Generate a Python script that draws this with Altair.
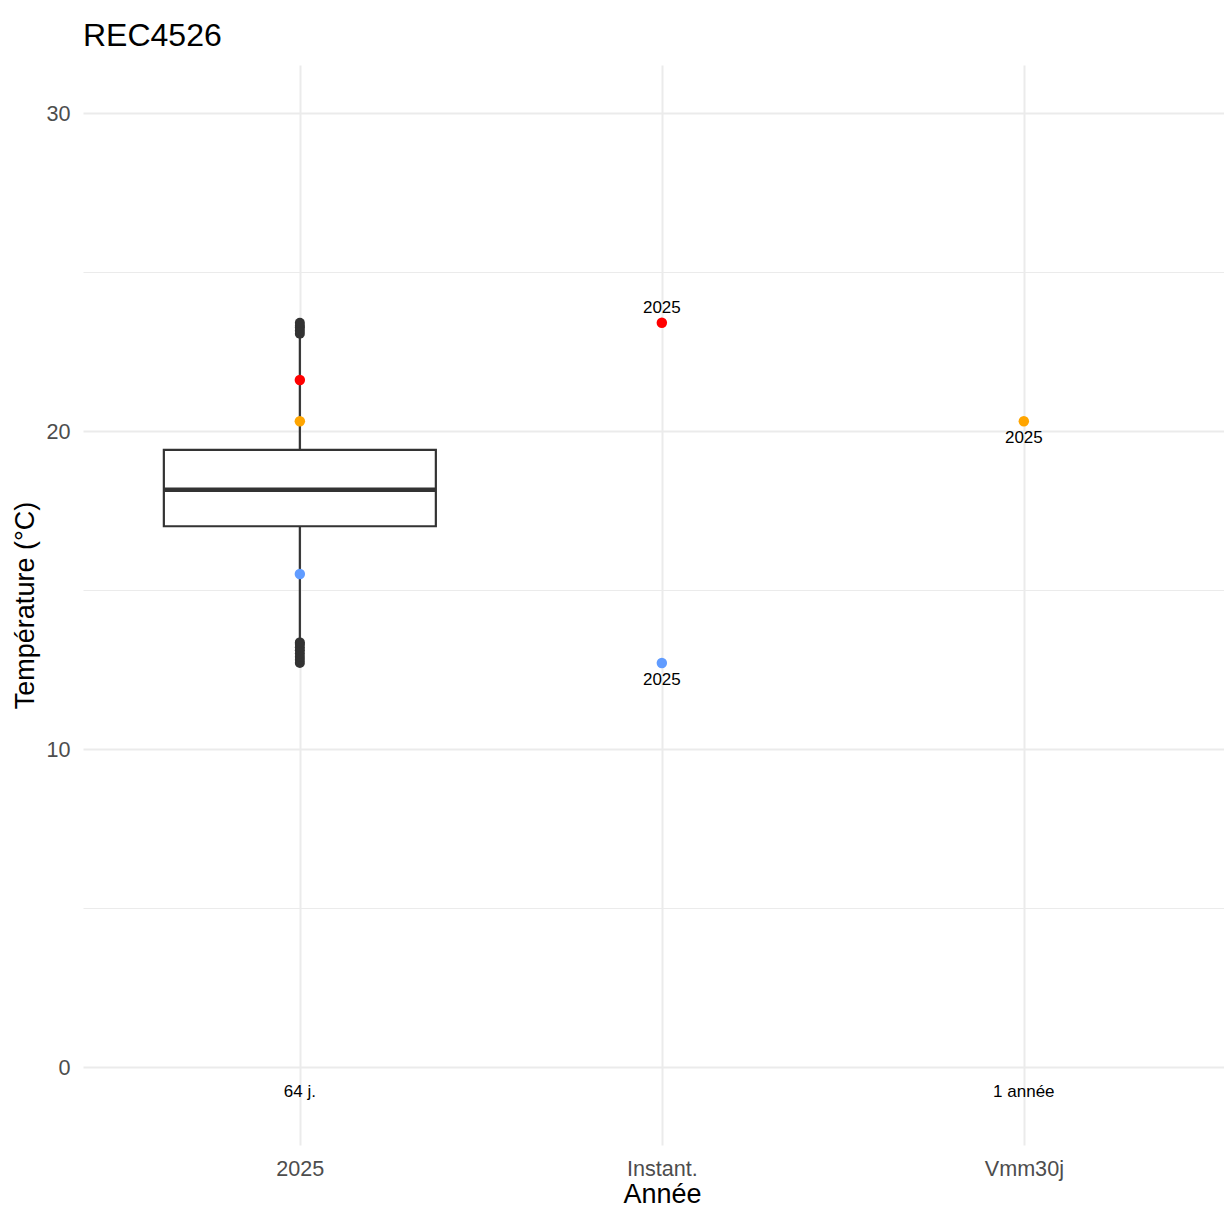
import altair as alt
import pandas as pd

# ---- data ----
cats = ["2025", "Instant.", "Vmm30j"]
kinds = ["max", "moy", "min"]
kind_colors = ["#FF0000", "#FFA500", "#619CFF"]

# boxplot summary (category "2025")
box_cat = ["2025"]
box_q1 = [17.0]
box_median = [18.15]
box_q3 = [19.4]
whisk_low = [13.45]
whisk_high = [22.95]
outliers = [12.7, 12.8, 12.9, 13.0, 13.1, 13.2, 13.3, 13.35,
            23.05, 23.15, 23.25, 23.3, 23.4]

# coloured points
pt_cat = ["2025", "2025", "2025", "Instant.", "Instant.", "Vmm30j"]
pt_val = [21.6, 20.3, 15.5, 23.4, 12.7, 20.3]
pt_kind = ["max", "moy", "min", "max", "min", "moy"]

# year labels near points
lab_above_cat = ["Instant."]
lab_above_val = [23.4]
lab_above_txt = ["2025"]
lab_below_cat = ["Instant.", "Vmm30j"]
lab_below_val = [12.7, 20.3]
lab_below_txt = ["2025", "2025"]

# count labels
n_cat = ["2025", "Vmm30j"]
n_val = [-0.79, -0.79]
n_txt = ["64 j.", "1 année"]

y_ticks = [0, 5, 10, 15, 20, 25, 30]

FONT = "Liberation Sans"

# ---- frames ----
box_df = pd.DataFrame({"cat": box_cat, "q1": box_q1, "med": box_median,
                       "q3": box_q3, "lo": whisk_low, "hi": whisk_high})
out_df = pd.DataFrame({"cat": ["2025"] * len(outliers), "v": outliers})
pt_df = pd.DataFrame({"cat": pt_cat, "v": pt_val, "kind": pt_kind})
above_df = pd.DataFrame({"cat": lab_above_cat, "v": lab_above_val, "t": lab_above_txt})
below_df = pd.DataFrame({"cat": lab_below_cat, "v": lab_below_val, "t": lab_below_txt})
n_df = pd.DataFrame({"cat": n_cat, "v": n_val, "t": n_txt})

xscale = alt.Scale(type="point", domain=cats, padding=0.576, align=0.52)
yscale = alt.Scale(domain=[-2.45, 31.5], nice=False, zero=False)

xaxis = alt.Axis(
    title="Année", grid=True, gridColor="#EBEBEB", gridWidth=2,
    ticks=False, domain=False, labelAngle=0,
    labelFont=FONT, labelFontSize=21.6, labelColor="#4D4D4D", labelPadding=13,
    titleFont=FONT, titleFontSize=27, titleFontWeight="normal", titleColor="#000000",
    titleX=579, titleY=57, titleBaseline="alphabetic",
)
yaxis = alt.Axis(
    title="Température (°C)", values=y_ticks,
    labelExpr="datum.value % 10 === 0 ? datum.label : ''",
    grid=True, gridColor="#EBEBEB",
    gridWidth={"condition": {"test": "datum.value % 10 === 0", "value": 2}, "value": 1},
    ticks=False, domain=False,
    labelFont=FONT, labelFontSize=21.6, labelColor="#4D4D4D", labelPadding=13,
    labelOffset=1.5,
    titleFont=FONT, titleFontSize=27, titleFontWeight="normal", titleColor="#000000",
    titleX=-58, titleY=540, titleAngle=270, titleBaseline="middle",
)

X = alt.X("cat:N", scale=xscale, axis=xaxis)
Xn = alt.X("cat:N", scale=xscale)

base_box = alt.Chart(box_df)
whisk_lo = base_box.mark_rule(color="#333333", strokeWidth=2.2).encode(
    x=X, y=alt.Y("lo:Q", scale=yscale, axis=yaxis), y2="q1:Q")
whisk_hi = base_box.mark_rule(color="#333333", strokeWidth=2.2).encode(
    x=Xn, y=alt.Y("q3:Q", scale=yscale), y2="hi:Q")
box = base_box.mark_bar(size=272, fill="#FFFFFF", stroke="#333333", strokeWidth=2.2).encode(
    x=Xn, y=alt.Y("q1:Q", scale=yscale), y2="q3:Q")
med = base_box.mark_tick(size=272, thickness=4.5, color="#333333", opacity=1).encode(
    x=Xn, y=alt.Y("med:Q", scale=yscale))

outl = alt.Chart(out_df).mark_circle(size=100, color="#333333", opacity=1).encode(
    x=Xn, y=alt.Y("v:Q", scale=yscale))

pts = alt.Chart(pt_df).mark_circle(size=110, opacity=1).encode(
    x=Xn, y=alt.Y("v:Q", scale=yscale),
    color=alt.Color("kind:N", scale=alt.Scale(domain=kinds, range=kind_colors), legend=None))

txt_above = alt.Chart(above_df).mark_text(dy=-15, fontSize=17, font=FONT, color="#000000").encode(
    x=Xn, y=alt.Y("v:Q", scale=yscale), text="t:N")
txt_below = alt.Chart(below_df).mark_text(dy=17, fontSize=17, font=FONT, color="#000000").encode(
    x=Xn, y=alt.Y("v:Q", scale=yscale), text="t:N")
txt_n = alt.Chart(n_df).mark_text(fontSize=17, font=FONT, color="#000000").encode(
    x=Xn, y=alt.Y("v:Q", scale=yscale), text="t:N")

chart = alt.layer(
    whisk_lo, whisk_hi, box, med, outl, pts, txt_above, txt_below, txt_n
).properties(
    width=1141, height=1080,
    padding={"left": 75, "top": 57, "right": 0, "bottom": 64},
    autosize=alt.AutoSizeParams(type="none"),
    title=alt.TitleParams("REC4526", anchor="start", frame="group", font=FONT,
                          fontSize=32, fontWeight="normal", color="#000000",
                          offset=-13, baseline="alphabetic"),
).configure(background="#FFFFFF").configure_view(stroke=None)

chart.save("out.html", embed_options={"renderer": "svg", "actions": False})
